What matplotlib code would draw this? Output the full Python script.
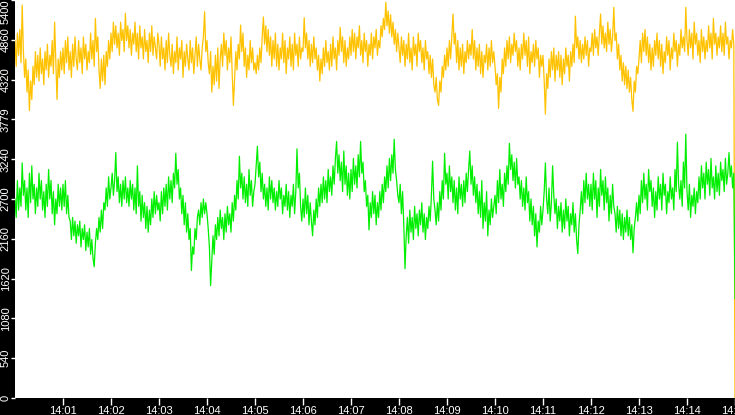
import numpy as np
import pandas as pd
import matplotlib
matplotlib.use("Agg")
import matplotlib.pyplot as plt

# ── Data (one reading every 1.5 s, 14:00:00 – 14:15:00, one row per minute) ──
YELLOW = [
    4850, 4500, 4950, 4650, 5000, 4550, 5330, 4700, 4350, 4600, 4150, 4450, 3900, 4300, 4050, 4500, 4250, 4700, 4350, 4650,
    4300, 4750, 4400, 4600, 4250, 4700, 4450, 4800, 4350, 4650, 4500, 4850, 4400, 5100, 4550, 4050, 4600, 4350, 4700, 4450,
    4750, 4400, 4850, 4550, 4900, 4450, 4700, 4350, 4800, 4500, 4900, 4600, 4450, 4850, 4550, 4750, 4400, 4900, 4600, 4800,
    4450, 4700, 4550, 4950, 4600, 4850, 4500, 5150, 4700, 4900, 4450, 4200, 4600, 4300, 4650, 4250, 4700, 4500, 4850, 4600,
    4950, 4700, 5100, 4800, 5050, 4750, 4950, 4650, 5100, 4850, 5000, 4700, 5220, 4850, 5050, 4750, 5000, 4650, 4950, 4800,
    5100, 4700, 4950, 4600, 5050, 4750, 4900, 4600, 5000, 4700, 4850, 4550, 4950, 4700, 5050, 4650, 4900, 4750, 4600, 4950,
    4800, 4500, 4900, 4600, 4750, 4450, 4850, 4550, 4950, 4650, 4500, 4800, 4400, 4700, 4550, 4900, 4450, 4750, 4600, 4850,
    4350, 4700, 4500, 4800, 4600, 4450, 4850, 4550, 4750, 4400, 4650, 4900, 4500, 4800, 4600, 4450, 4750, 4900, 5240, 4700,
    4850, 4550, 4400, 4700, 4150, 4500, 4250, 4650, 4300, 4750, 4200, 4600, 4800, 4500, 4950, 4650, 4850, 4450, 4750, 4550,
    4900, 4400, 3970, 4350, 4700, 4450, 4800, 4600, 5060, 4700, 4950, 4500, 4750, 4350, 4650, 4450, 4850, 4550, 4750, 4450,
    4550, 4400, 4650, 4450, 4750, 4550, 4900, 5170, 4800, 5050, 4700, 5000, 4650, 4900, 4500, 4850, 4600, 4950, 4500, 4800,
    4450, 4750, 4600, 4950, 4550, 4850, 4400, 4750, 4600, 4900, 4500, 4800, 4450, 4950, 4650, 4800, 4500, 4900, 4600, 4750,
    4700, 5160, 4750, 4950, 4600, 4850, 4500, 4800, 4550, 4900, 4600, 4750, 4450, 4650, 4300, 4600, 4400, 4750, 4500, 4850,
    4550, 4700, 4450, 4800, 4500, 4900, 4600, 4750, 4450, 4850, 4650, 5030, 4700, 4900, 4550, 4850, 4500, 4750, 4600, 4900,
    4650, 5000, 4700, 4950, 4600, 4900, 4750, 5050, 4650, 4850, 4550, 4950, 4700, 4850, 4500, 4800, 4650, 4950, 4600, 4900,
    4750, 5000, 4650, 4850, 4750, 5050, 4900, 5150, 5000, 5370, 5050, 5250, 4950, 5200, 4900, 5100, 4800, 5000, 4700, 4950,
    4750, 4550, 4900, 4650, 4850, 4500, 4800, 4600, 4950, 4550, 4750, 4450, 4900, 4650, 4800, 4500, 4950, 4700, 4850, 4550,
    4750, 4450, 4850, 4600, 4700, 4400, 4650, 4350, 4600, 4250, 4150, 4350, 4050, 3970, 4300, 4150, 4500, 4350, 4650, 4450,
    4750, 4500, 4850, 4600, 4900, 5210, 4800, 4950, 4550, 4850, 4450, 4750, 4500, 4800, 4400, 4700, 4550, 4850, 4600, 4800,
    4650, 5000, 4600, 4850, 4450, 4750, 4500, 4800, 4400, 4700, 4350, 4650, 4550, 4800, 4450, 4750, 4500, 4850, 4550, 4700,
    4500, 4250, 4400, 3930, 4350, 4150, 4600, 4400, 4750, 4500, 4850, 4600, 4900, 4550, 4800, 4650, 4950, 4700, 4850, 4500,
    4750, 4450, 4800, 4600, 4950, 4650, 4850, 4500, 4900, 4400, 4700, 4550, 4800, 4500, 4850, 4600, 4750, 4350, 4650, 4500,
    4650, 4300, 3850, 4400, 4200, 4600, 4350, 4700, 4450, 4750, 4300, 4650, 4450, 4700, 4350, 4650, 4250, 4600, 4400, 4750,
    4500, 4650, 4300, 4700, 4500, 4800, 4550, 5180, 4750, 4900, 4600, 4850, 4550, 4800, 4600, 4900, 4650, 4850, 4500, 4750,
    4700, 4950, 4650, 5000, 4750, 4900, 4650, 4950, 5210, 4800, 5050, 4750, 4950, 4700, 5100, 4800, 5000, 4700, 4900, 5300,
    4850, 4950, 4600, 4800, 4450, 4650, 4300, 4550, 4250, 4500, 4200, 4450, 4150, 4350, 4050, 3890, 4300, 4150, 4500, 4400,
    4600, 4850, 4550, 4950, 4700, 5000, 4650, 4900, 4550, 4800, 4450, 4750, 4500, 4850, 4650, 4950, 4600, 4850, 4500, 4800,
    4400, 4700, 4550, 4900, 4650, 4850, 4450, 4750, 4600, 4950, 4700, 4850, 4500, 4800, 4650, 5000, 4750, 4900, 4700, 5300,
    4850, 4650, 5000, 4750, 4950, 4600, 5100, 4800, 4950, 4650, 4850, 4550, 5000, 4700, 4900, 4600, 4850, 4700, 5050, 4750,
    4950, 4600, 5150, 4800, 4950, 4650, 4900, 4750, 5050, 4700, 4950, 4650, 5100, 4800, 4900, 4600, 4850, 4750, 5000, 4800,
    0,
]

GREEN = [
    2700, 2450, 2950, 2550, 2850, 2600, 3190, 2750, 2950, 2550, 2850, 2450, 3050, 2650, 3150, 2700, 2900, 2500, 2850, 2600,
    3050, 2700, 2950, 2550, 2800, 2450, 2900, 2600, 3100, 2700, 2950, 2500, 2800, 2350, 2700, 2500, 2900, 2600, 2850, 2550,
    2900, 2600, 2950, 2500, 2750, 2450, 2400, 2150, 2450, 2200, 2400, 2100, 2350, 2200, 2400, 2050, 2300, 2150, 2350, 2000,
    2250, 2050, 2300, 1950, 2150, 1900, 1780, 2100, 2300, 2150, 2450, 2250, 2550, 2300, 2650, 2550, 2850, 2600, 3000, 2700,
    2850, 3050, 2750, 2950, 3330, 2800, 3000, 2650, 2900, 2600, 2950, 2700, 3000, 2650, 2850, 2600, 2950, 2700, 2900, 2550,
    2850, 2500, 3150, 2600, 2800, 2400, 2750, 2450, 2650, 2300, 2600, 2250, 2550, 2350, 2700, 2450, 2800, 2500, 2750, 2550,
    2650, 2400, 2800, 2500, 2850, 2600, 2900, 2550, 3000, 2700, 2950, 2650, 3050, 2850, 3320, 2900, 3100, 2700, 2850, 2500,
    2750, 2350, 2650, 2250, 2500, 2150, 2300, 1730, 2050, 1950, 2300, 2150, 2450, 2550, 2350, 2650, 2450, 2700, 2500, 2650,
    2500, 2300, 2050, 1525, 1850, 2200, 1950, 2350, 2150, 2450, 2200, 2550, 2300, 2450, 2150, 2500, 2250, 2600, 2350, 2500,
    2250, 2650, 2400, 2750, 2550, 2950, 2700, 3280, 2850, 3050, 2700, 3000, 2650, 2900, 2600, 3100, 2750, 2950, 2600, 2800,
    2900, 3150, 3415, 3000, 3200, 2800, 3050, 2700, 2900, 2600, 2850, 2550, 3000, 2700, 2950, 2650, 2850, 2550, 2800, 2600,
    2950, 2700, 2850, 2500, 2750, 2600, 2900, 2550, 2800, 2450, 2750, 2600, 2900, 2500, 2800, 3380, 2850, 3050, 2600, 2400,
    2700, 2450, 2850, 2500, 2750, 2350, 2650, 2400, 2200, 2550, 2350, 2700, 2450, 2850, 2600, 2900, 2650, 3000, 2700, 2950,
    2650, 3100, 2800, 3000, 2750, 3150, 2900, 3250, 3480, 3050, 3300, 2950, 3200, 2800, 3350, 2900, 3150, 2750, 3050, 2700,
    3100, 2800, 3250, 2900, 3150, 2850, 3300, 3000, 3480, 3050, 3200, 2800, 2950, 2600, 2750, 2280, 2650, 2450, 2800, 2500,
    2750, 2350, 2650, 2450, 2800, 2550, 2900, 2650, 3000, 2800, 3150, 2850, 3250, 2950, 3300, 3050, 3510, 3100, 2950, 2750,
    2650, 2900, 2500, 2800, 2350, 1755, 2200, 2450, 2100, 2550, 2250, 2450, 2150, 2600, 2300, 2500, 2200, 2550, 2350, 2650,
    2250, 2500, 2150, 2450, 2300, 2600, 2400, 2750, 3213, 2700, 2550, 2350, 2650, 2400, 2800, 2550, 2950, 2700, 3320, 2900,
    3050, 2700, 3150, 2800, 3000, 2650, 2950, 2550, 2850, 2500, 3000, 2700, 2900, 2600, 2950, 2650, 3050, 2800, 3100, 3350,
    2900, 3150, 2750, 3000, 2650, 2900, 2500, 2800, 2450, 2950, 2300, 2650, 2400, 2800, 2200, 2550, 2350, 2700, 2450, 2600,
    2750, 2500, 2950, 2650, 3100, 2700, 2900, 2600, 3050, 2800, 3150, 2900, 3456, 3100, 3300, 2950, 3200, 2850, 3250, 2900,
    3000, 2700, 2950, 2600, 2850, 2550, 3000, 2650, 2800, 2400, 2700, 2350, 2600, 2200, 2500, 2050, 2400, 2250, 2600, 2350,
    2550, 2800, 3190, 2700, 2500, 2850, 2400, 2650, 3150, 2750, 2500, 2700, 2300, 2600, 2400, 2650, 2250, 2550, 2300, 2700,
    2400, 2600, 2200, 2500, 2350, 2650, 2250, 2500, 2150, 1960, 2350, 2550, 2800, 2500, 2950, 2650, 3050, 2700, 2900, 2600,
    2900, 2550, 3050, 2700, 2950, 2450, 2850, 2600, 3100, 2750, 2950, 2550, 3000, 2650, 2850, 2400, 2750, 2500, 2900, 2600,
    2500, 2250, 2600, 2300, 2550, 2200, 2500, 2150, 2450, 2250, 2550, 2200, 2450, 2150, 2350, 1970, 2300, 2450, 2650, 2400,
    2750, 2500, 2950, 2650, 3050, 2700, 2900, 2550, 3100, 2800, 2950, 2600, 2850, 2450, 2800, 2550, 3000, 2700, 2900, 2550,
    3050, 2750, 2900, 2500, 2800, 2650, 3000, 2700, 2850, 2550, 3100, 2800, 3470, 2900, 2700, 2950, 2600, 3200, 2850, 3580,
    2800, 2550, 2900, 2450, 2750, 2600, 2850, 2500, 2800, 2650, 3000, 2700, 3150, 2850, 3050, 2700, 3200, 2900, 3100, 2750,
    3250, 2850, 3000, 2700, 3150, 2800, 3050, 2750, 3200, 2950, 3100, 2800, 3250, 2900, 3050, 3330, 3000, 3150, 2850, 3050,
    1350,
]

Y_TICKS = [0, 540, 1080, 1620, 2160, 2700, 3240, 3780, 4320, 4860, 5400]
Y_LABELS = ["0", "540", "1080", "1620", "2160", "2700", "3240", "3779", "4320", "4860", "5400"]
X_LABELS = ["14:01", "14:02", "14:03", "14:04", "14:05", "14:06", "14:07",
            "14:08", "14:09", "14:10", "14:11", "14:12", "14:13", "14:14", "14:15"]

times = pd.date_range("2024-01-01 14:00:00", periods=len(YELLOW), freq="1500ms")
x_ticks = pd.date_range("2024-01-01 14:01:00", periods=len(X_LABELS), freq="1min")

# ── Plot ──────────────────────────────────────────────────────────────────
plt.rcParams["font.family"] = ["Liberation Sans", "DejaVu Sans"]

fig = plt.figure(figsize=(7.35, 4.15), dpi=100)
fig.patch.set_facecolor("black")
ax = fig.add_axes([15 / 735, 17 / 415, 720 / 735, 398 / 415])
ax.set_facecolor("white")

ax.plot(times, YELLOW, color="#FFC200", linewidth=0.9)
ax.plot(times, GREEN, color="#00EE00", linewidth=0.9)

ax.set_xlim(times[0], times[-1])
ax.set_ylim(0, 5400)

for spine in ax.spines.values():
    spine.set_visible(False)

ax.set_yticks(Y_TICKS)
ax.set_yticklabels(Y_LABELS, rotation=90, va="center", color="white", fontsize=8)
ax.get_yticklabels()[-1].set_verticalalignment("top")
ax.set_xticks(x_ticks)
ax.set_xticklabels(X_LABELS, color="white", fontsize=8)
ax.tick_params(axis="both", colors="white", width=1)
ax.tick_params(axis="y", length=3, pad=0)
ax.tick_params(axis="x", length=5, pad=1)

fig.savefig("out.png", dpi=100, facecolor=fig.get_facecolor())
plt.close(fig)
